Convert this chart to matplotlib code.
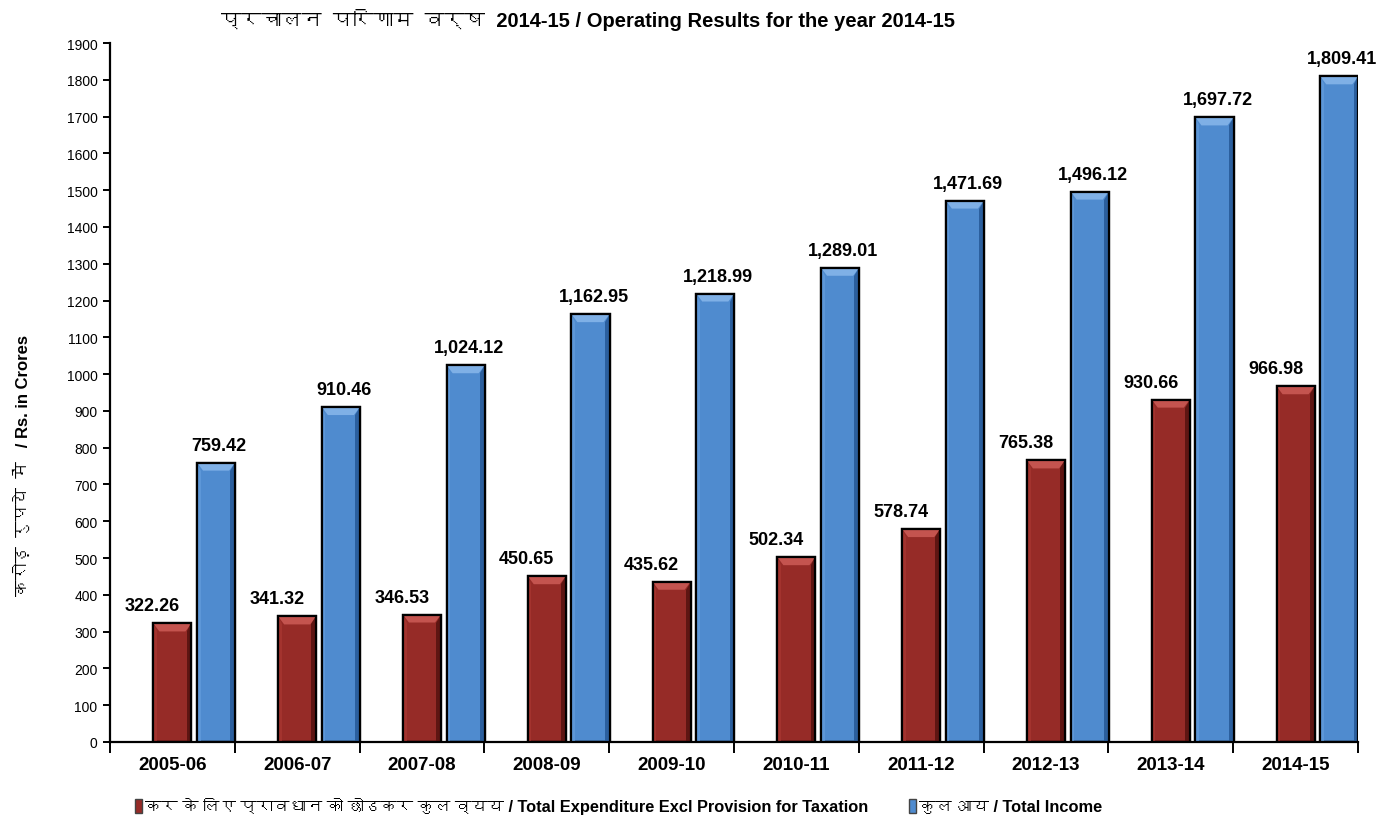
import numpy as np
import matplotlib
matplotlib.use("Agg")
import matplotlib.pyplot as plt
from matplotlib import font_manager
from matplotlib.ft2font import FT2Font
from matplotlib.patches import Polygon, Patch

# ---------------- data ----------------
years = ["2005-06", "2006-07", "2007-08", "2008-09", "2009-10",
         "2010-11", "2011-12", "2012-13", "2013-14", "2014-15"]
expenditure = [322.26, 341.32, 346.53, 450.65, 435.62,
               502.34, 578.74, 765.38, 930.66, 966.98]
income = [759.42, 910.46, 1024.12, 1162.95, 1218.99,
          1289.01, 1471.69, 1496.12, 1697.72, 1809.41]
yticks = list(range(0, 2000, 100))

title_text = "प्रचालन  परिणाम  वर्ष  2014-15 / Operating Results for the year 2014-15"
ylabel_text = "करोड़  रुपये  में   / Rs. in Crores"
legend_labels = ["कर के लिए प्रावधान को छोडकर कुल व्यय / Total Expenditure Excl Provision for Taxation",
                 "कुल आय / Total Income"]

# ---------------- fonts ----------------
dev_font = None
for f in font_manager.fontManager.ttflist:
    try:
        if 0x0915 in FT2Font(f.fname).get_charmap():
            dev_font = f.name
            break
    except Exception:
        pass
base = ["Liberation Sans"] + ([dev_font] if dev_font else []) + ["DejaVu Sans"]
plt.rcParams["font.family"] = base

# ---------------- figure ----------------
fig = plt.figure(figsize=(13.91, 8.28), dpi=100)
W, H = 1391, 828
ax = fig.add_axes([110 / W, 1 - 743 / H, (1358 - 110) / W, (743 - 44) / H])

x = np.arange(len(years))
bw = 0.305
red = "#962B27"
blue = "#4F8BCF"
b1 = ax.bar(x, expenditure, bw, color=red, edgecolor="black", linewidth=1.6, zorder=2)
b2 = ax.bar(x + 0.35, income, bw, color=blue, edgecolor="black", linewidth=1.6, zorder=2)

ax.set_xlim(-0.5, 9.5)
ax.set_ylim(0, 1900)

# bevel effect derived from each bar's geometry
px_x = 10 / 1248.0   # data per pixel in x
px_y = 1900 / 699.0  # data per pixel in y
def bevel(rects, light, dark, side_light):
    for r in rects:
        x0, w, h = r.get_x(), r.get_width(), r.get_height()
        x1 = x0 + w
        bx, by = 6 * px_x, 8 * px_y
        ax.add_patch(Polygon([(x0, h), (x1, h), (x1 - bx, h - by), (x0 + bx, h - by)],
                             closed=True, facecolor=light, edgecolor="none", zorder=3))
        ax.add_patch(Polygon([(x1, h), (x1, 0), (x1 - bx * 0.8, 0), (x1 - bx * 0.8, h - by)],
                             closed=True, facecolor=dark, edgecolor="none", zorder=3))
        ax.add_patch(Polygon([(x0, h), (x0, 0), (x0 + bx * 0.6, 0), (x0 + bx * 0.6, h - by)],
                             closed=True, facecolor=side_light, edgecolor="none", zorder=3))
        ax.add_patch(plt.Rectangle((x0, 0), w, h, facecolor="none", edgecolor="black",
                                   linewidth=1.6, zorder=4))

bevel(b1, "#C4544F", "#5E1512", "#A3332E")
bevel(b2, "#7FB0E6", "#2B5F9E", "#5D97D8")

# data labels
for r, v in zip(b1, expenditure):
    ax.annotate(f"{v:,.2f}", (r.get_x() + r.get_width() / 2, v), xytext=(-20, 9),
                textcoords="offset pixels", ha="center", va="bottom",
                fontsize=13, fontweight="bold", zorder=5)
for r, v in zip(b2, income):
    ax.annotate(f"{v:,.2f}", (r.get_x() + r.get_width() / 2, v), xytext=(3, 9),
                textcoords="offset pixels", ha="center", va="bottom",
                fontsize=13, fontweight="bold", zorder=5)

# axes styling
for s in ["top", "right"]:
    ax.spines[s].set_visible(False)
for s in ["left", "bottom"]:
    ax.spines[s].set_linewidth(1.6)
    ax.spines[s].set_color("black")
ax.set_yticks(yticks)
ax.set_yticklabels([str(t) for t in yticks], fontsize=10)
ax.tick_params(axis="y", length=5, width=1.4, direction="out", pad=4)
ax.set_xticks(x)
ax.set_xticklabels(years, fontsize=13.5, fontweight="bold")
ax.tick_params(axis="x", which="major", length=0, pad=10)
ax.set_xticks(np.arange(-0.5, 10, 1), minor=True)
ax.tick_params(axis="x", which="minor", length=8, width=1.4, direction="out")

fig.text(588 / W, 1 - 20 / H, title_text, ha="center", va="center",
         fontsize=14.5, fontweight="bold", family=base)
fig.text(22 / W, 1 - 465 / H, ylabel_text, ha="center", va="center",
         rotation=90, fontsize=12, fontweight="bold", family=base)

handles = [Patch(facecolor=red, edgecolor="#444444"), Patch(facecolor=blue, edgecolor="#444444")]
fig.legend(handles, legend_labels, loc="center left", bbox_to_anchor=(120 / W, 1 - 807 / H),
           ncol=2, frameon=False, handlelength=0.45, handleheight=0.9, handletextpad=0.15,
           columnspacing=2.5, prop={"family": base, "weight": "bold", "size": 11.8})

fig.savefig("out.png", dpi=100, facecolor="white")
